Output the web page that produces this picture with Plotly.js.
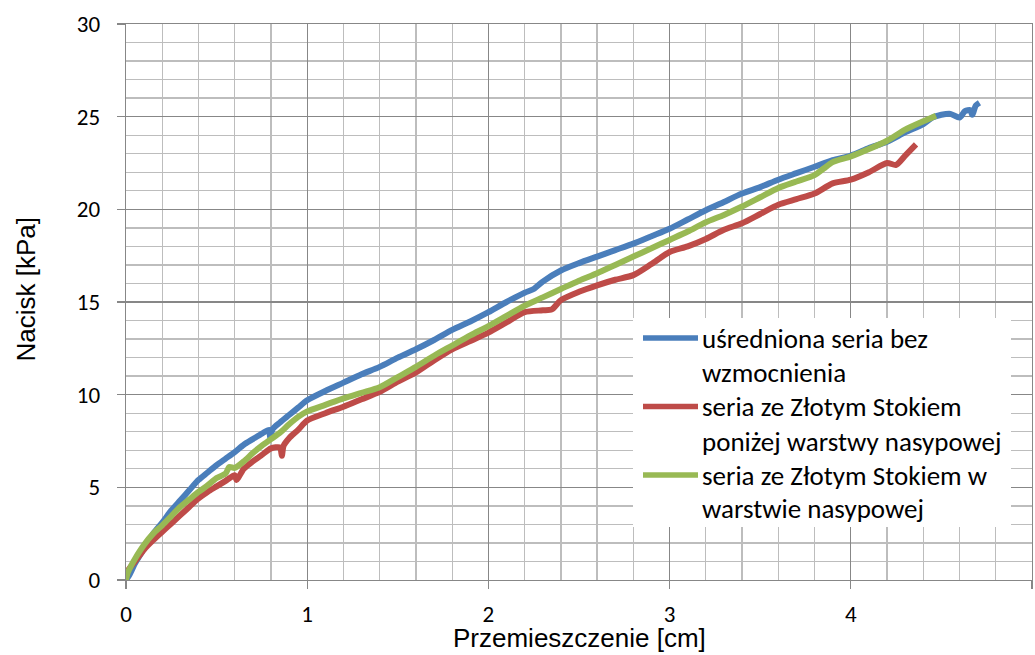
<!DOCTYPE html>
<html>
<head>
<meta charset="utf-8">
<script src="https://cdn.plot.ly/plotly-3.0.1.min.js"></script>
<style>
  html, body { margin: 0; padding: 0; background: #fff; }
  #chart { width: 1035px; height: 655px; }
</style>
</head>
<body>
<div id="chart"></div>
<script>
// ---- data ----
var seriesNames = [
  "uśredniona seria bez wzmocnienia",
  "seria ze Złotym Stokiem poniżej warstwy nasypowej",
  "seria ze Złotym Stokiem w warstwie nasypowej"
];
var legendLines = [
  ["uśredniona seria bez", "wzmocnienia"],
  ["seria ze Złotym Stokiem", "poniżej warstwy nasypowej"],
  ["seria ze Złotym Stokiem w", "warstwie nasypowej"]
];
var seriesColors = ["#4A7EBB", "#BE4B48", "#98B954"];

var xBlue = [0, 0.02, 0.05, 0.1, 0.15, 0.2, 0.25, 0.3, 0.35, 0.4, 0.45, 0.5, 0.55, 0.6, 0.65, 0.7, 0.75, 0.79, 0.795, 0.81, 0.85, 0.9, 0.95, 1.0,
  1.1, 1.2, 1.3, 1.4, 1.5, 1.6, 1.7, 1.8, 1.9, 2.0, 2.1, 2.2, 2.25, 2.3, 2.4, 2.5, 2.6, 2.7, 2.8, 2.9, 3.0,
  3.1, 3.2, 3.3, 3.4, 3.5, 3.6, 3.7, 3.8, 3.9, 4.0, 4.1, 4.2, 4.3, 4.4, 4.45, 4.5, 4.55, 4.6, 4.63, 4.66, 4.67, 4.69, 4.71];
var yBlue = [0, 0.3, 0.9, 1.7, 2.5, 3.1, 3.75, 4.3, 4.85, 5.4, 5.8, 6.2, 6.55, 6.9, 7.3, 7.6, 7.9, 8.1, 7.7, 8.15, 8.5, 8.9, 9.3, 9.7,
  10.2, 10.65, 11.1, 11.5, 12.0, 12.45, 12.95, 13.5, 13.95, 14.45, 15.0, 15.5, 15.7, 16.1, 16.7, 17.1, 17.45, 17.8, 18.15, 18.55, 18.95,
  19.45, 19.95, 20.4, 20.85, 21.2, 21.6, 21.95, 22.3, 22.65, 22.9, 23.3, 23.65, 24.15, 24.6, 24.95, 25.1, 25.15, 24.95, 25.3, 25.35, 25.1, 25.6, 25.75];

var xRed = [0, 0.01, 0.05, 0.1, 0.15, 0.2, 0.25, 0.3, 0.35, 0.4, 0.45, 0.5, 0.55, 0.6, 0.61, 0.65, 0.7, 0.75, 0.8, 0.85, 0.86, 0.87, 0.9, 0.95, 1.0,
  1.1, 1.2, 1.3, 1.4, 1.5, 1.6, 1.7, 1.8, 1.9, 2.0, 2.1, 2.2, 2.3, 2.35, 2.4, 2.5, 2.6, 2.7, 2.8, 2.9, 3.0,
  3.1, 3.2, 3.3, 3.4, 3.5, 3.6, 3.7, 3.8, 3.9, 4.0, 4.1, 4.2, 4.25, 4.3, 4.36];
var yRed = [0.1, 0.5, 1.0, 1.65, 2.15, 2.6, 3.05, 3.5, 3.95, 4.4, 4.75, 5.05, 5.35, 5.65, 5.4, 6.0, 6.4, 6.75, 7.1, 7.15, 6.7, 7.25, 7.65, 8.1, 8.6,
  9.0, 9.35, 9.75, 10.15, 10.7, 11.2, 11.85, 12.45, 12.9, 13.35, 13.9, 14.45, 14.55, 14.6, 15.1, 15.55, 15.9, 16.2, 16.45, 17.05, 17.7,
  18.0, 18.4, 18.9, 19.25, 19.75, 20.25, 20.55, 20.85, 21.4, 21.6, 22.0, 22.5, 22.4, 22.9, 23.5];

var xGreen = [0, 0.01, 0.03, 0.05, 0.1, 0.15, 0.2, 0.25, 0.3, 0.35, 0.4, 0.45, 0.5, 0.55, 0.57, 0.6, 0.65, 0.7, 0.75, 0.8, 0.85, 0.9, 0.95, 1.0,
  1.1, 1.2, 1.3, 1.4, 1.5, 1.6, 1.7, 1.8, 1.9, 2.0, 2.1, 2.2, 2.3, 2.4, 2.5, 2.6, 2.7, 2.8, 2.9, 3.0,
  3.1, 3.2, 3.3, 3.4, 3.5, 3.6, 3.7, 3.8, 3.85, 3.9, 4.0, 4.1, 4.2, 4.3, 4.4, 4.47];
var yGreen = [0, 0.4, 0.8, 1.15, 1.9, 2.5, 2.95, 3.45, 3.95, 4.35, 4.75, 5.1, 5.5, 5.75, 6.1, 6.05, 6.4, 6.85, 7.25, 7.6, 7.95, 8.4, 8.8, 9.1,
  9.45, 9.8, 10.1, 10.4, 10.95, 11.5, 12.1, 12.65, 13.2, 13.7, 14.25, 14.8, 15.25, 15.7, 16.15, 16.55, 17.0, 17.45, 17.9, 18.35,
  18.8, 19.3, 19.7, 20.15, 20.65, 21.15, 21.5, 21.85, 22.2, 22.55, 22.85, 23.25, 23.7, 24.3, 24.75, 25.05];

var xTicks = [0, 1, 2, 3, 4, 5];
var yTicks = [0, 5, 10, 15, 20, 25, 30];
var xTitle = "Przemieszczenie [cm]";
var yTitle = "Nacisk [kPa]";

// ---- chart ----
var tickFont = {family: "Calibri, Carlito, Lato, sans-serif", size: 23, color: "#000"};
var titleFont = {family: "Arial, 'Liberation Sans', sans-serif", size: 26, color: "#000"};
var legendFont = {family: "Calibri, Carlito, Lato, sans-serif", size: 27, color: "#000"};

var xs = [xBlue, xRed, xGreen], ys = [yBlue, yRed, yGreen];
var traces = xs.map(function (x, i) {
  return {
    type: "scatter", mode: "lines", name: seriesNames[i],
    x: x, y: ys[i], showlegend: false,
    line: {color: seriesColors[i], width: 6, shape: "spline", smoothing: 0.7}
  };
});

var majorGrid = "#878787", minorGrid = "#BDBDBD";
var axisCommon = {
  showgrid: true, gridcolor: majorGrid, gridwidth: 1.3,
  showline: true, linecolor: majorGrid, linewidth: 1.3, mirror: true,
  zeroline: false, ticks: "outside", ticklen: 8, tickcolor: majorGrid, tickwidth: 1.3,
  tickfont: tickFont, fixedrange: true
};

// manual legend placed like the reference
var plotL = 126, plotR = 1032, plotT = 24, plotB = 580;
function px2px(x) { return (x - plotL) / (plotR - plotL); }
function py2py(y) { return (plotB - y) / (plotB - plotT); }

var shapes = [{
  type: "rect", xref: "paper", yref: "paper", layer: "above",
  x0: px2px(633), x1: px2px(1011), y0: py2py(527), y1: py2py(318),
  fillcolor: "#ffffff", line: {width: 0}
}];
var annotations = [];
var lineRows = [338, 372, 406.5, 441, 475, 508.5];
legendLines.forEach(function (pair, i) {
  shapes.push({
    type: "line", xref: "paper", yref: "paper", layer: "above",
    x0: px2px(643), x1: px2px(698), y0: py2py(lineRows[2 * i]), y1: py2py(lineRows[2 * i]),
    line: {color: seriesColors[i], width: 5.5}
  });
  pair.forEach(function (t, j) {
    annotations.push({
      xref: "paper", yref: "paper", x: px2px(700), y: py2py(lineRows[2 * i + j]),
      xanchor: "left", yanchor: "middle", showarrow: false, text: t, font: legendFont
    });
  });
});
annotations.push({
  xref: "paper", yref: "paper", x: 0.5, y: py2py(637.5), xanchor: "center", yanchor: "middle",
  showarrow: false, text: xTitle, font: titleFont
});
annotations.push({
  xref: "paper", yref: "paper", x: px2px(25), y: py2py(289.5), xanchor: "center", yanchor: "middle",
  showarrow: false, text: yTitle, textangle: -90, font: titleFont
});

var layout = {
  width: 1035, height: 655,
  margin: {l: plotL, r: 1035 - plotR, t: plotT, b: 655 - plotB},
  paper_bgcolor: "#fff", plot_bgcolor: "#fff",
  showlegend: false,
  xaxis: Object.assign({}, axisCommon, {
    range: [0, 5], tickvals: xTicks, ticktext: xTicks.map(String), ticklabelstandoff: 5,
    minor: {dtick: 0.2, tick0: 0, showgrid: true, gridcolor: minorGrid, gridwidth: 1.3, ticks: ""}
  }),
  yaxis: Object.assign({}, axisCommon, {
    range: [0, 30], tickvals: yTicks, ticktext: yTicks.map(String), ticklabelstandoff: 12,
    minor: {dtick: 1, tick0: 0, showgrid: true, gridcolor: minorGrid, gridwidth: 1.3, ticks: ""}
  }),
  shapes: shapes, annotations: annotations
};

Plotly.newPlot("chart", traces, layout, {displayModeBar: false, staticPlot: true});
</script>
</body>
</html>
